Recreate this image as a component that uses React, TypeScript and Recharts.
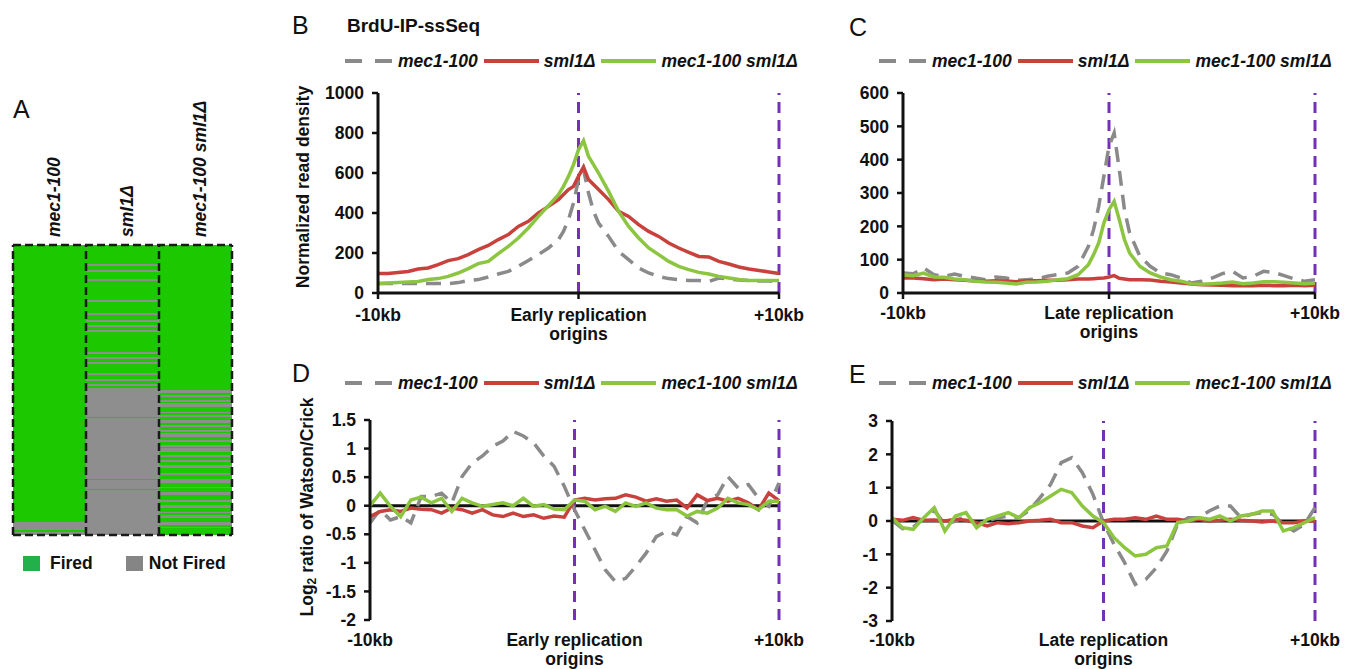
import React from 'react';
import { LineChart, Line, XAxis, YAxis, ReferenceLine, BarChart, Bar, Legend } from 'recharts';

const FONT = 'Arial, "Liberation Sans", Helvetica, sans-serif';
const INK = '#111111';
const PURPLE = '#7530B8';
const HEAT_GREEN = '#1CC800';
const HEAT_GRAY = '#8E8E8E';
const HEAT_SWATCH = ['#22B04B', '#858585'];

// ---------- Panel A : origin firing map ----------
const HEAT_COLUMNS = ['mec1-100', 'sml1Δ', 'mec1-100 sml1Δ'];
const HEAT_STATES = ['Fired', 'Not Fired'];
const HEAT_TOTAL = 290;
// run lengths from top to bottom, alternating Fired / Not Fired (first run = Fired)
const RUNS_MEC1 = [277, 8, 2, 3];
const RUNS_SML1 = [19, 2, 4, 2, 7, 2, 19, 2, 11, 2, 5, 2, 3, 2, 3, 2, 20, 2, 3, 2, 3, 2, 9, 2, 4, 2, 3, 2, 2, 29, 1, 61, 1, 9, 1, 45];
const RUNS_DOUBLE = [145, 3, 2, 2, 3, 2, 1, 4, 5, 1, 2, 2, 3, 3, 2, 2, 3, 2, 1, 4, 3, 2, 3, 2, 1, 4, 3, 2, 3, 2, 3, 3, 5, 2, 4, 4, 4, 1, 4, 3, 5, 2, 3, 3, 4, 1, 2, 3, 4, 3, 2, 1, 7];

// ---------- Panels B-E ----------
const X_TICKS = [-10, 0, 10];
const PURPLE_MARKS = [0, 10];
const EARLY_TICK_LABELS = ['-10kb', 'Early replication\norigins', '+10kb'];
const LATE_TICK_LABELS = ['-10kb', 'Late replication\norigins', '+10kb'];

const X_BC = [-10, -9.5, -9, -8.5, -8, -7.5, -7, -6.5, -6, -5.5, -5, -4.5, -4, -3.5, -3, -2.5, -2, -1.5, -1, -0.75, -0.5, -0.25, 0, 0.25, 0.5, 0.75, 1, 1.5, 2, 2.5, 3, 3.5, 4, 4.5, 5, 5.5, 6, 6.5, 7, 7.5, 8, 8.5, 9, 9.5, 10];

const B_MEC1 = [47, 47, 47, 47, 47, 48, 47, 47, 52, 62, 67, 80, 95, 108, 133, 163, 192, 225, 267, 308, 367, 450, 567, 617, 500, 408, 350, 283, 208, 167, 125, 100, 83, 72, 67, 62, 62, 58, 75, 70, 65, 62, 60, 60, 58];
const B_SML1 = [97, 98, 103, 108, 120, 125, 142, 162, 172, 192, 217, 238, 267, 292, 333, 358, 400, 433, 467, 492, 517, 533, 583, 630, 567, 542, 517, 467, 408, 383, 342, 308, 283, 250, 225, 203, 183, 180, 158, 145, 130, 120, 113, 105, 97];
const B_DOUBLE = [47, 50, 53, 55, 58, 67, 72, 83, 100, 122, 147, 158, 197, 233, 275, 325, 383, 437, 492, 533, 583, 642, 717, 762, 683, 642, 600, 508, 408, 333, 275, 225, 192, 158, 133, 117, 103, 95, 83, 75, 67, 63, 62, 62, 62];

const C_MEC1 = [60, 58, 75, 55, 50, 57, 50, 45, 40, 48, 45, 38, 40, 42, 50, 55, 60, 80, 140, 190, 260, 350, 440, 480, 370, 250, 180, 110, 80, 60, 55, 45, 30, 35, 45, 58, 65, 45, 50, 65, 62, 52, 42, 35, 40];
const C_SML1 = [45, 45, 43, 40, 42, 40, 38, 36, 35, 37, 36, 34, 37, 37, 38, 38, 40, 42, 42, 43, 44, 45, 48, 52, 44, 42, 40, 40, 39, 35, 33, 30, 27, 25, 24, 23, 22, 22, 22, 23, 22, 22, 23, 22, 23];
const C_DOUBLE = [55, 52, 60, 48, 47, 42, 40, 35, 33, 32, 30, 27, 32, 33, 35, 40, 43, 55, 85, 115, 150, 210, 250, 275, 220, 160, 120, 80, 60, 48, 40, 35, 28, 26, 28, 30, 33, 28, 30, 34, 34, 32, 30, 28, 30];

const X_DE = [-10, -9.5, -9, -8.5, -8, -7.5, -7, -6.5, -6, -5.5, -5, -4.5, -4, -3.5, -3, -2.5, -2, -1.5, -1, -0.5, 0, 0.5, 1, 1.5, 2, 2.5, 3, 3.5, 4, 4.5, 5, 5.5, 6, 6.5, 7, 7.5, 8, 8.5, 9, 9.5, 10];

const D_MEC1 = [-0.3, -0.07, -0.25, -0.19, -0.3, 0.16, 0.16, 0.22, 0.05, 0.51, 0.75, 0.87, 1.04, 1.13, 1.3, 1.22, 1.1, 0.87, 0.69, 0.34, -0.07, -0.42, -0.77, -1.12, -1.33, -1.27, -1.06, -0.83, -0.54, -0.45, -0.51, -0.19, -0.3, 0.1, 0.19, 0.51, 0.31, 0.37, 0.13, -0.01, 0.4];
const D_SML1 = [-0.19, -0.1, -0.07, -0.1, -0.04, -0.06, -0.07, -0.13, -0.04, -0.07, -0.13, -0.07, -0.16, -0.19, -0.13, -0.19, -0.16, -0.22, -0.18, -0.2, 0.1, 0.13, 0.1, 0.12, 0.13, 0.19, 0.15, 0.08, 0.12, 0.08, 0.1, -0.04, 0.19, 0.09, 0.13, 0.08, 0.13, 0.05, -0.07, 0.22, 0.09];
const D_DOUBLE = [0, 0.22, -0.01, -0.19, 0.1, 0.15, 0.05, 0.13, -0.1, 0.13, 0.05, -0.01, 0.02, 0.05, 0, 0.13, -0.01, 0.02, -0.06, -0.07, 0.1, 0.08, -0.07, -0.01, -0.1, 0.05, -0.01, 0.05, -0.04, -0.07, -0.07, -0.18, -0.1, -0.13, -0.04, 0.13, 0.05, 0.02, -0.07, 0.08, 0.08];

const E_MEC1 = [0.02, -0.23, -0.18, 0.07, 0.32, -0.1, 0, 0.15, -0.1, 0, 0.1, 0.15, 0.1, 0.32, 0.7, 1.1, 1.75, 1.9, 1.45, 0.8, -0.05, -0.7, -1.25, -1.9, -1.75, -1.4, -0.9, -0.1, 0.1, 0.1, 0.3, 0.45, 0.45, 0.1, 0.2, 0.25, 0.2, -0.1, -0.3, -0.1, 0.4];
const E_SML1 = [0.05, 0.02, 0.1, 0.02, 0.03, 0, 0.05, 0.02, -0.05, -0.15, -0.05, -0.08, -0.05, 0, 0.02, 0.05, -0.05, -0.05, -0.15, -0.2, 0, 0.05, 0.05, 0.1, 0.05, 0.15, 0.05, 0.05, 0, 0.05, 0, 0.02, 0.05, 0.02, 0, -0.03, 0, -0.05, -0.05, 0, 0];
const E_DOUBLE = [0.1, -0.2, -0.25, 0.1, 0.4, -0.3, 0.15, 0.25, -0.2, 0.05, 0.15, 0.25, 0.1, 0.4, 0.55, 0.75, 0.95, 0.85, 0.45, 0.15, -0.05, -0.5, -0.8, -1.05, -1.0, -0.8, -0.75, -0.05, 0, 0.1, 0.05, 0.15, 0, 0.15, 0.2, 0.3, 0.3, -0.3, -0.2, -0.05, 0.1];

const Y_TICKS_B = [0, 200, 400, 600, 800, 1000];
const Y_TICKS_C = [0, 100, 200, 300, 400, 500, 600];
const Y_TICKS_D = [-2, -1.5, -1, -0.5, 0, 0.5, 1, 1.5];
const Y_TICKS_E = [-3, -2, -1, 0, 1, 2, 3];

const SERIES = [
  { key: 'mec', name: 'mec1-100', color: '#8A8A8A', dash: '15 9', legendDash: '17 13', sampleW: 48 },
  { key: 'sml', name: 'sml1Δ', color: '#C9413C', dash: undefined as string | undefined, legendDash: undefined as string | undefined, sampleW: 55 },
  { key: 'dbl', name: 'mec1-100 sml1Δ', color: '#8CC540', dash: undefined as string | undefined, legendDash: undefined as string | undefined, sampleW: 55 },
];

function rowsOf(xs: number[], a: number[], b: number[], c: number[]) {
  return xs.map((x, i) => ({ x, mec: a[i], sml: b[i], dbl: c[i] }));
}

const heatRuns = [RUNS_MEC1, RUNS_SML1, RUNS_DOUBLE];
const maxRuns = Math.max(...heatRuns.map((r) => r.length));
const heatRows = HEAT_COLUMNS.map((name, c) => {
  const row: Record<string, any> = { name };
  heatRuns[c].forEach((v, i) => {
    row['s' + i] = v;
  });
  return row;
});
const heatEdges = HEAT_COLUMNS.map((_, i) => ({ b: i })).concat([{ b: HEAT_COLUMNS.length }]);

// ---------- small render helpers ----------
const ColTick = (props: any) => {
  const { x, payload } = props;
  const px = x + 10;
  const py = 152;
  return (
    <text x={px} y={py} transform={`rotate(-90 ${px} ${py})`} textAnchor="start" fill={INK}
      fontFamily={FONT} fontWeight={700} fontStyle="italic" fontSize={17.5}>
      {payload.value}
    </text>
  );
};

const XTick = (props: any) => {
  const { x, payload, labels, baseY } = props;
  const idx = X_TICKS.indexOf(payload.value);
  const text: string = idx >= 0 ? labels[idx] : '';
  const lines = text.split('\n');
  return (
    <text x={x} y={baseY} textAnchor="middle" fill={INK} fontFamily={FONT} fontWeight={700} fontSize={17.5}>
      {lines.map((l, i) => (
        <tspan key={i} x={x} dy={i === 0 ? 0 : 19}>{l}</tspan>
      ))}
    </text>
  );
};

const YTitle = (props: any) => {
  const vb = props.viewBox;
  if (!vb) return null;
  const cx = vb.x + vb.width / 2;
  const cy = vb.y + vb.height / 2 + (props.shift || 0);
  const parts: { t: string; sub?: boolean }[] = props.parts;
  return (
    <text x={cx} y={cy} transform={`rotate(-90 ${cx} ${cy})`} textAnchor="middle" dominantBaseline="central"
      fill={INK} fontFamily={FONT} fontWeight={700} fontSize={17.5}>
      {parts.map((p, i) => {
        const prevSub = i > 0 && parts[i - 1].sub;
        return (
          <tspan key={i} fontSize={p.sub ? 12 : 17.5} dy={p.sub ? 5 : prevSub ? -5 : 0}>{p.t}</tspan>
        );
      })}
    </text>
  );
};

const SeriesLegend = (props: any) => {
  const payload: any[] = props.payload || [];
  const ordered = SERIES.map((s) => ({ s, e: payload.find((p) => p.dataKey === s.key) })).filter((o) => o.e);
  return (
    <div style={{ display: 'flex', alignItems: 'center', whiteSpace: 'nowrap', fontFamily: FONT, fontWeight: 700,
      fontStyle: 'italic', fontSize: 17.5, color: INK, lineHeight: '20px' }}>
      {ordered.map(({ s, e }) => (
        <span key={s.key} style={{ display: 'inline-flex', alignItems: 'center', marginRight: 6 }}>
          <svg width={s.sampleW} height={8} style={{ marginRight: 5 }}>
            <line x1={0} y1={4} x2={s.sampleW} y2={4} stroke={e.color} strokeWidth={4} strokeDasharray={s.legendDash} />
          </svg>
          <span>{e.value}</span>
        </span>
      ))}
    </div>
  );
};

const HeatLegend = () => (
  <div style={{ display: 'flex', alignItems: 'center', whiteSpace: 'nowrap', fontFamily: FONT, fontWeight: 700,
    fontSize: 17.5, color: INK, lineHeight: '20px' }}>
    {HEAT_STATES.map((name, i) => (
      <span key={name} style={{ display: 'inline-flex', alignItems: 'center', marginRight: i === 0 ? 33 : 0 }}>
        <span style={{ display: 'inline-block', width: 17, height: 15, background: HEAT_SWATCH[i], marginRight: i === 0 ? 10 : 6 }} />
        <span>{name}</span>
      </span>
    ))}
  </div>
);

type PanelProps = {
  left: number; top: number; width: number; height: number;
  margin: { top: number; right: number; bottom: number; left: number };
  yWidth: number; domain: [number, number]; yTicks: number[];
  rows: any[]; tickLabels: string[]; tickBaseY: number;
  yTitle?: { t: string; sub?: boolean }[]; yTitleShift?: number;
  zeroLine: boolean; xAxisLine: boolean; legendLeft: number; legendTop: number;
};

function LinePanel(p: PanelProps) {
  return (
    <div style={{ position: 'absolute', left: p.left, top: p.top }}>
      <LineChart width={p.width} height={p.height} data={p.rows} margin={p.margin} style={{ fontFamily: FONT }}>
        {p.zeroLine && <ReferenceLine y={0} stroke={INK} strokeWidth={3} />}
        <XAxis dataKey="x" type="number" domain={[-10, 10]} ticks={X_TICKS} interval={0} height={52}
          axisLine={p.xAxisLine ? { stroke: INK, strokeWidth: 3 } : false}
          tickLine={p.xAxisLine ? { stroke: INK, strokeWidth: 2.5 } : false}
          tickSize={6}
          tick={<XTick labels={p.tickLabels} baseY={p.tickBaseY} />} />
        <YAxis type="number" domain={p.domain} ticks={p.yTicks} interval={0} width={p.yWidth} allowDataOverflow
          axisLine={{ stroke: INK, strokeWidth: 3 }} tickLine={{ stroke: INK, strokeWidth: 2.5 }}
          tickSize={6} tickMargin={8}
          tick={{ fill: INK, fontSize: 17.5, fontWeight: 700, fontFamily: FONT }}
          label={p.yTitle ? <YTitle parts={p.yTitle} shift={p.yTitleShift} /> : undefined} />
        {PURPLE_MARKS.map((m) => (
          <ReferenceLine key={m} x={m} stroke={PURPLE} strokeWidth={3} strokeDasharray="11 7" />
        ))}
        {SERIES.map((s) => (
          <Line key={s.key} dataKey={s.key} name={s.name} type="linear" stroke={s.color} strokeWidth={3.5}
            strokeDasharray={s.dash} dot={false} activeDot={false} isAnimationActive={false} />
        ))}
        <Legend layout="horizontal" verticalAlign="middle" align="center"
          wrapperStyle={{ left: p.legendLeft, top: p.legendTop, width: 'auto', height: 'auto' }}
          content={(lp: any) => <SeriesLegend payload={lp.payload} />} />
      </LineChart>
    </div>
  );
}

function Heatmap() {
  return (
    <>
      <div style={{ position: 'absolute', left: 10, top: 85 }}>
        <BarChart width={225} height={453} data={heatRows} margin={{ top: 5, right: 3, bottom: 3, left: 3 }}
          barCategoryGap={0} barGap={0} style={{ fontFamily: FONT }}>
          <XAxis dataKey="name" orientation="top" height={155} axisLine={false} tickLine={false} interval={0}
            tick={<ColTick />} />
          <YAxis type="number" domain={[0, HEAT_TOTAL]} reversed hide allowDataOverflow />
          {Array.from({ length: maxRuns }, (_, i) => (
            <Bar key={i} dataKey={'s' + i} stackId="h" name={HEAT_STATES[i % 2]}
              fill={i % 2 === 0 ? HEAT_GREEN : HEAT_GRAY} isAnimationActive={false}
              legendType={i < 2 ? 'square' : 'none'} />
          ))}
          <Legend layout="horizontal" verticalAlign="middle" align="center"
            wrapperStyle={{ left: 13, top: 468, width: 240, height: 'auto' }}
            content={() => <HeatLegend />} />
        </BarChart>
      </div>
      <div style={{ position: 'absolute', left: 10, top: 85 }}>
        <LineChart width={225} height={453} data={heatEdges} margin={{ top: 160, right: 3, bottom: 3, left: 3 }}>
          <XAxis dataKey="b" type="number" domain={[0, HEAT_COLUMNS.length]} hide allowDataOverflow />
          <YAxis type="number" domain={[0, HEAT_TOTAL]} reversed hide allowDataOverflow />
          {heatEdges.map((e) => (
            <ReferenceLine key={'v' + e.b} x={e.b} stroke="#1a1a1a" strokeWidth={2.5} strokeDasharray="8 4" />
          ))}
          <ReferenceLine y={0} stroke="#1a1a1a" strokeWidth={2.5} strokeDasharray="8 4" />
          <ReferenceLine y={HEAT_TOTAL} stroke="#1a1a1a" strokeWidth={2.5} strokeDasharray="8 4" />
        </LineChart>
      </div>
    </>
  );
}

export default function App() {
  return (
    <div style={{ position: 'absolute', left: 0, top: 0, width: 1347, height: 669, overflow: 'hidden', background: '#fff', fontFamily: FONT }}>
      <Heatmap />
      <LinePanel left={228} top={40} width={590} height={305}
        margin={{ top: 53, right: 39, bottom: 0, left: 0 }} yWidth={150} domain={[0, 1000]} yTicks={Y_TICKS_B}
        rows={rowsOf(X_BC, B_MEC1, B_SML1, B_DOUBLE)} tickLabels={EARLY_TICK_LABELS} tickBaseY={281}
        yTitle={[{ t: 'Normalized read density' }]} yTitleShift={-6}
        zeroLine={false} xAxisLine={true} legendLeft={117} legendTop={11} />
      <LinePanel left={843} top={40} width={504} height={305}
        margin={{ top: 53, right: 32, bottom: 0, left: 0 }} yWidth={60} domain={[0, 600]} yTicks={Y_TICKS_C}
        rows={rowsOf(X_BC, C_MEC1, C_SML1, C_DOUBLE)} tickLabels={LATE_TICK_LABELS} tickBaseY={279}
        zeroLine={false} xAxisLine={true} legendLeft={36} legendTop={11} />
      <LinePanel left={244} top={360} width={575} height={312}
        margin={{ top: 60, right: 40, bottom: 0, left: 0 }} yWidth={126} domain={[-2, 1.5]} yTicks={Y_TICKS_D}
        rows={rowsOf(X_DE, D_MEC1, D_SML1, D_DOUBLE)} tickLabels={EARLY_TICK_LABELS} tickBaseY={286}
        yTitle={[{ t: 'Log' }, { t: '2', sub: true }, { t: ' ratio of Watson/Crick' }]} yTitleShift={-13}
        zeroLine={true} xAxisLine={false} legendLeft={101} legendTop={13} />
      <LinePanel left={832} top={360} width={515} height={313}
        margin={{ top: 61, right: 32, bottom: 0, left: 0 }} yWidth={60} domain={[-3, 3]} yTicks={Y_TICKS_E}
        rows={rowsOf(X_DE, E_MEC1, E_SML1, E_DOUBLE)} tickLabels={LATE_TICK_LABELS} tickBaseY={286}
        zeroLine={true} xAxisLine={false} legendLeft={47} legendTop={13} />
      <svg width={1347} height={669} style={{ position: 'absolute', left: 0, top: 0, pointerEvents: 'none' }}>
        <g fontFamily={FONT} fill={INK} fontSize={25}>
          <text x={13} y={118}>A</text>
          <text x={292} y={34}>B</text>
          <text x={849} y={36}>C</text>
          <text x={292} y={382}>D</text>
          <text x={849} y={383}>E</text>
        </g>
        <text x={347} y={32} fontFamily={FONT} fill={INK} fontSize={19} fontWeight={700}>BrdU-IP-ssSeq</text>
      </svg>
    </div>
  );
}
